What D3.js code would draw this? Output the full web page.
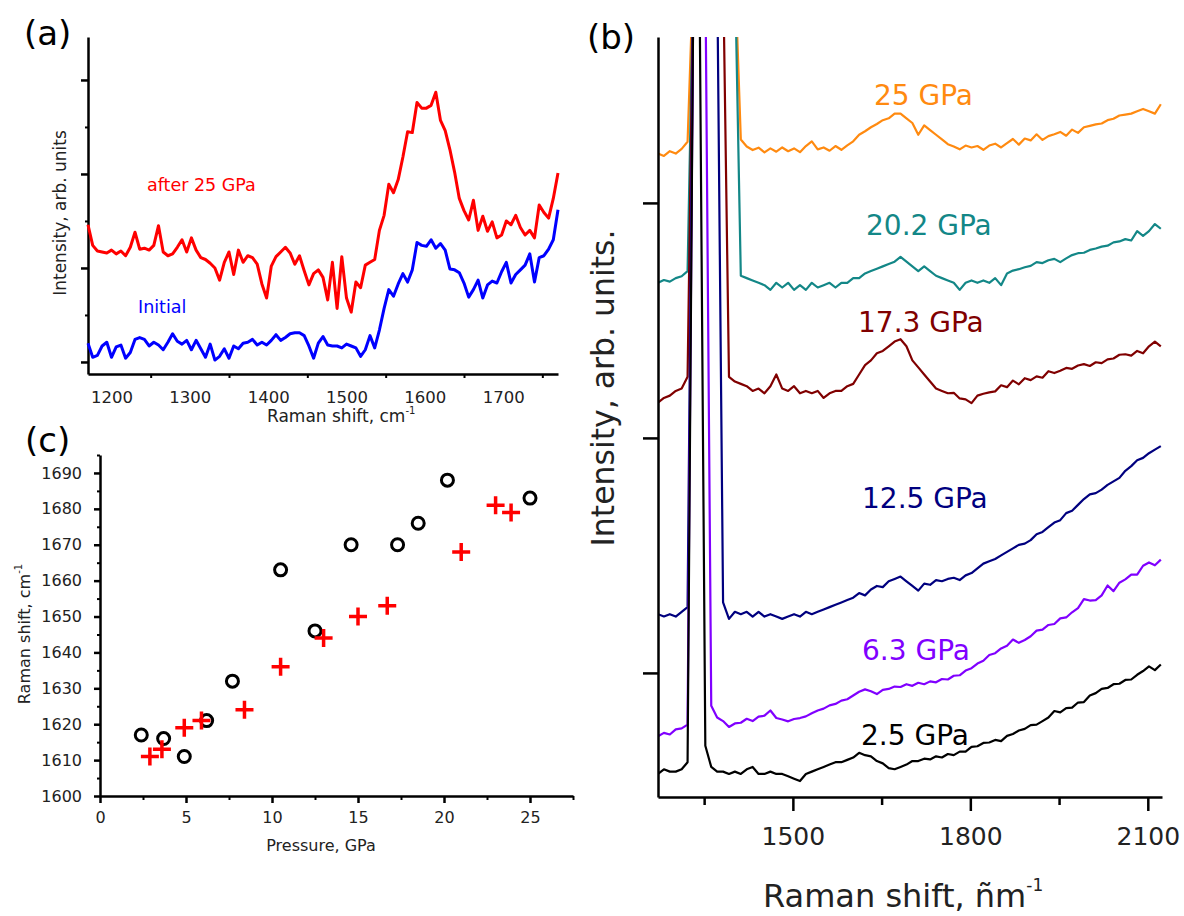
<!DOCTYPE html>
<html>
<head>
<meta charset="utf-8">
<script src="https://cdn.jsdelivr.net/npm/d3@7"></script>
<style>
  body { margin: 0; background: #fff; }
  svg text { font-family: "DejaVu Sans", sans-serif; }
</style>
</head>
<body>
<script>
// ---- panel (a): spectra before / after compression ----
const ramanA = d3.range(1170, 1771, 6); // sampling grid, cm-1
const after25A = [146,124,118,117,116,119,115,118,113,122,
  138,120,121,119,124,145,117,113,115,122,
  130,117,132,119,111,109,105,100,87,106,
  117,93,119,106,113,111,104,83,68,102,
  112,117,122,116,104,113,97,82,94,98,
  90,66,106,57,112,68,53,85,79,103,
  106,109,140,156,189,180,194,218,245,244,
  276,270,270,273,287,257,246,226,202,174,
  161,151,172,140,155,139,149,132,135,150,
  146,156,143,135,140,132,167,159,153,174,
  201];
const initialA = [20,5,7,17,21,5,16,18,4,10,
  24,26,24,17,21,18,13,21,30,22,
  19,23,13,23,14,5,19,2,6,14,
  4,17,14,20,21,24,18,21,18,23,
  29,23,26,30,31,31,28,17,4,20,
  27,18,17,17,15,19,17,15,6,13,
  28,15,34,57,77,70,83,94,85,98,
  127,124,123,130,121,126,119,99,98,95,
  84,69,77,87,68,82,86,84,96,106,
  84,93,98,103,115,85,111,113,120,130,
  162];
const shiftTicksA = [1200, 1300, 1400, 1500, 1600, 1700];
const shiftMinorA = [1250, 1350, 1450, 1550, 1650, 1750];
const intTicksA = [0, 100, 200, 300];
const intMinorA = [50, 150, 250];

// ---- panel (b): spectra under pressure ----
const shiftB = d3.range(1272, 2123, 10); // sampling grid, cm-1
const pressureLabels = ["25 GPa", "20.2 GPa", "17.3 GPa", "12.5 GPa", "6.3 GPa", "2.5 GPa"];
const p25 = [2210,2200,2220,2210,2230,2260,3000,3000,3000,3000,
  3000,3000,3000,3000,2270,2240,2225,2235,2215,2232,
  2218,2236,2220,2232,2216,2242,2262,2228,2236,2222,
  2242,2226,2245,2262,2290,2305,2322,2336,2352,2360,
  2380,2380,2360,2340,2290,2330,2310,2290,2270,2250,
  2240,2228,2244,2236,2242,2226,2244,2252,2236,2254,
  2272,2248,2274,2266,2292,2268,2284,2292,2302,2286,
  2312,2298,2322,2328,2334,2338,2352,2358,2372,2376,
  2380,2390,2400,2390,2380,2420];
const p20 = [1660,1672,1665,1680,1688,1710,3000,3000,3000,3000,
  3000,3000,3000,3000,1690,1680,1670,1660,1650,1630,
  1660,1640,1660,1630,1650,1630,1660,1640,1650,1660,
  1640,1660,1660,1680,1680,1700,1710,1720,1730,1740,
  1750,1770,1750,1730,1710,1730,1710,1690,1680,1670,
  1660,1630,1660,1670,1660,1670,1660,1680,1650,1700,
  1712,1718,1726,1732,1748,1744,1756,1762,1748,1764,
  1778,1786,1788,1800,1806,1814,1818,1832,1836,1846,
  1840,1880,1860,1880,1910,1890];
const p17 = [1150,1170,1180,1200,1210,1260,3000,3000,3000,3000,
  3000,3000,1260,1240,1230,1220,1200,1210,1190,1220,
  1270,1210,1200,1220,1190,1200,1190,1200,1170,1190,
  1200,1200,1220,1230,1270,1310,1330,1360,1370,1390,
  1410,1420,1390,1330,1300,1270,1240,1210,1200,1190,
  1192,1168,1164,1148,1180,1188,1194,1198,1224,1216,
  1244,1228,1254,1246,1262,1256,1284,1276,1286,1298,
  1294,1308,1314,1306,1322,1318,1334,1338,1354,1356,
  1350,1370,1360,1390,1410,1390];
const p12 = [250,240,250,240,260,280,3000,3000,3000,3000,
  3000,300,230,260,250,260,240,260,240,250,
  240,230,240,250,240,260,250,260,270,280,
  290,300,310,320,340,330,355,370,365,390,
  400,410,390,370,350,380,375,395,390,400,
  405,395,415,425,445,465,475,485,500,515,
  530,545,550,565,590,600,620,640,650,680,
  690,715,740,760,765,780,800,815,830,860,
  880,905,915,935,950,965];
const p6 = [-270,-255,-262,-240,-236,-220,3000,3000,3000,-140,
  -190,-205,-230,-215,-212,-195,-205,-186,-182,-160,
  -192,-198,-206,-196,-192,-185,-172,-160,-152,-138,
  -132,-118,-112,-96,-80,-70,-78,-90,-72,-68,
  -58,-60,-48,-55,-42,-48,-36,-40,-26,-28,
  -12,-10,10,20,40,52,76,84,104,116,
  142,128,140,156,180,184,204,208,232,236,
  258,276,314,308,310,330,372,348,384,398,
  418,418,456,470,458,482];
const p2 = [-430,-410,-420,-420,-410,-380,3000,3000,-310,-400,
  -420,-420,-430,-420,-430,-410,-400,-430,-430,-420,
  -430,-430,-440,-450,-460,-430,-420,-410,-400,-390,
  -380,-380,-370,-360,-340,-350,-355,-375,-385,-405,
  -410,-400,-390,-375,-375,-365,-368,-355,-360,-345,
  -350,-335,-335,-315,-312,-298,-296,-285,-290,-268,
  -260,-245,-238,-222,-220,-205,-190,-162,-168,-150,
  -148,-126,-124,-96,-86,-68,-64,-48,-46,-30,
  -28,-8,8,28,12,36];
const shiftTicksB = [1500, 1800, 2100];
const shiftMinorB = [1350, 1650, 1950];
const intTicksB = [0, 1000, 2000];

// ---- panel (c): peak position vs pressure ----
const pressCircle = [2.4, 3.7, 4.9, 6.2, 7.7, 10.5, 12.5, 14.6, 17.3, 18.5, 20.2, 25.0];
const shiftCircle = [1617, 1616, 1611, 1621, 1632, 1663, 1646, 1670, 1670, 1676, 1688, 1683];
const pressCross = [2.9, 3.6, 4.9, 5.9, 8.4, 10.5, 13.0, 15.0, 16.7, 21.0, 23.0, 23.9];
const shiftCross = [1611, 1613, 1619, 1621, 1624, 1636, 1644, 1650, 1653, 1668, 1681, 1679];
const pressTicks = [0, 5, 10, 15, 20, 25];
const pressMinor = [2.5, 7.5, 12.5, 17.5, 22.5, 27.5];
const shiftTicksC = [1600, 1610, 1620, 1630, 1640, 1650, 1660, 1670, 1680, 1690];
const shiftMinorC = [1605, 1615, 1625, 1635, 1645, 1655, 1665, 1675, 1685, 1695];

const svg = d3.select("body").append("svg")
  .attr("width", 1184)
  .attr("height", 916);

function styleAxis(g, width, fontSize) {
  g.attr("font-family", null).attr("font-size", fontSize);
  g.select(".domain").attr("stroke", "#000").attr("stroke-width", width);
  g.selectAll(".tick line").attr("stroke", "#000").attr("stroke-width", width);
  g.selectAll(".tick text").attr("fill", "#222");
  return g;
}

function minorTicks(axis, tx, ty, width) {
  svg.append("g")
    .attr("transform", "translate(" + tx + "," + ty + ")")
    .call(axis.tickFormat(""))
    .call(g => g.select(".domain").remove())
    .selectAll("line").attr("stroke", "#000").attr("stroke-width", width);
}

function label(x, y, txt, size, color) {
  return svg.append("text")
    .attr("x", x).attr("y", y)
    .attr("font-size", size)
    .attr("fill", color || "#222")
    .text(txt);
}

// ================= (a) =================
const xA = d3.scaleLinear().domain([1170, 1770]).range([88, 558]);
const yA = d3.scaleLinear().domain([-12.8, 345.7]).range([374, 37]);

const gAx = svg.append("g").attr("transform", "translate(0,374)")
  .call(d3.axisBottom(xA).tickValues(shiftTicksA).tickSize(0).tickSizeOuter(0).tickFormat(d3.format("d")));
styleAxis(gAx, 2.5, 16.5);
gAx.selectAll(".tick text").attr("y", 29).attr("dy", null);
minorTicks(d3.axisBottom(xA).tickValues(shiftMinorA).tickSize(4), 0, 374, 2);

const gAy = svg.append("g").attr("transform", "translate(88,0)")
  .call(d3.axisLeft(yA).tickValues(intTicksA).tickSize(7).tickSizeOuter(0).tickFormat(""));
styleAxis(gAy, 2.5, 16);
minorTicks(d3.axisLeft(yA).tickValues(intMinorA).tickSize(3), 88, 0, 2);

const lineA = d3.line()
  .x((d, i) => xA(ramanA[i]))
  .y(d => yA(d));

svg.append("path").datum(initialA)
  .attr("d", lineA).attr("fill", "none")
  .attr("stroke", "#0000ff").attr("stroke-width", 3).attr("stroke-linejoin", "round");
svg.append("path").datum(after25A)
  .attr("d", lineA).attr("fill", "none")
  .attr("stroke", "#ff0000").attr("stroke-width", 3).attr("stroke-linejoin", "round");

label(147, 191, "after 25 GPa", 17.5, "#ff0000");
label(138, 313, "Initial", 17.5, "#0000ff");

svg.append("text")
  .attr("transform", "translate(66,213) rotate(-90)")
  .attr("text-anchor", "middle")
  .attr("font-size", 17).attr("fill", "#222")
  .text("Intensity, arb. units");

const xlabA = label(267, 422, "Raman shift, cm", 17);
xlabA.append("tspan").attr("dy", -8).attr("font-size", 10).text("-1");

svg.append("text").attr("x", 24).attr("y", 45)
  .attr("font-family", "'Open Sans', sans-serif").attr("font-size", 34).attr("fill", "#000")
  .text("(a)");

// ================= (c) =================
const xC = d3.scaleLinear().domain([0, 27.5]).range([100, 573]);
const yC = d3.scaleLinear().domain([1600, 1695]).range([796, 455]);

const gCx = svg.append("g").attr("transform", "translate(0,796)")
  .call(d3.axisBottom(xC).tickValues(pressTicks).tickSize(7).tickSizeOuter(0).tickFormat(d3.format("d")));
styleAxis(gCx, 2.5, 16);
gCx.selectAll(".tick text").attr("y", 27).attr("dy", null);
minorTicks(d3.axisBottom(xC).tickValues(pressMinor).tickSize(4), 0, 796, 2);

const gCy = svg.append("g").attr("transform", "translate(100,0)")
  .call(d3.axisLeft(yC).tickValues(shiftTicksC).tickSize(6).tickSizeOuter(0).tickPadding(12).tickFormat(d3.format("d")));
styleAxis(gCy, 2.5, 16);
minorTicks(d3.axisLeft(yC).tickValues(shiftMinorC).tickSize(3), 100, 0, 2);

svg.append("g").selectAll("circle")
  .data(pressCircle)
  .enter().append("circle")
  .attr("cx", d => xC(d))
  .attr("cy", (d, i) => yC(shiftCircle[i]))
  .attr("r", 6)
  .attr("fill", "none").attr("stroke", "#000").attr("stroke-width", 3);

svg.append("g").selectAll("path")
  .data(pressCross)
  .enter().append("path")
  .attr("transform", (d, i) => "translate(" + xC(d) + "," + yC(shiftCross[i]) + ")")
  .attr("d", "M-9,0H9M0,-9V9")
  .attr("stroke", "#ff0000").attr("stroke-width", 3.5);

const ylabC = svg.append("text")
  .attr("transform", "translate(30,634) rotate(-90)")
  .attr("text-anchor", "middle")
  .attr("font-size", 16).attr("fill", "#222")
  .text("Raman shift, cm");
ylabC.append("tspan").attr("dy", -8).attr("font-size", 10).text("-1");

svg.append("text").attr("x", 321).attr("y", 851)
  .attr("text-anchor", "middle").attr("font-size", 16).attr("fill", "#222")
  .text("Pressure, GPa");

svg.append("text").attr("x", 25).attr("y", 452)
  .attr("font-family", "'Open Sans', sans-serif").attr("font-size", 34).attr("fill", "#000")
  .text("(c)");

// ================= (b) =================
const xB = d3.scaleLinear().domain([1272, 2124]).range([658, 1162]);
const yB = d3.scaleLinear().domain([-528, 2706]).range([797, 37]);

svg.append("clipPath").attr("id", "clipB")
  .append("rect").attr("x", 658).attr("y", 37).attr("width", 504).attr("height", 760);

const lineB = d3.line()
  .x((d, i) => xB(shiftB[i]))
  .y(d => yB(d));

const spectraB = [p25, p20, p17, p12, p6, p2];
const colorsB = ["#ff8a10", "#138787", "#800000", "#00007f", "#8000ff", "#000000"];
const labelPosB = [[874, 105], [866, 235], [858, 332], [862, 508], [862, 660], [861, 745]];

svg.append("g").attr("clip-path", "url(#clipB)")
  .selectAll("path")
  .data(spectraB)
  .enter().append("path")
  .attr("d", lineB)
  .attr("fill", "none")
  .attr("stroke", (d, i) => colorsB[i])
  .attr("stroke-width", 2.2)
  .attr("stroke-linejoin", "round");

pressureLabels.forEach((t, i) => {
  label(labelPosB[i][0], labelPosB[i][1], t, 28, colorsB[i]);
});

const gBx = svg.append("g").attr("transform", "translate(0,797)")
  .call(d3.axisBottom(xB).tickValues(shiftTicksB).tickSize(14).tickSizeOuter(0).tickFormat(d3.format("d")));
styleAxis(gBx, 2.5, 25);
gBx.selectAll(".tick text").attr("y", 48).attr("dy", null);
minorTicks(d3.axisBottom(xB).tickValues(shiftMinorB).tickSize(8), 0, 797, 2.5);

const gBy = svg.append("g").attr("transform", "translate(658,0)")
  .call(d3.axisLeft(yB).tickValues(intTicksB).tickSize(15).tickSizeOuter(0).tickFormat(""));
styleAxis(gBy, 2.5, 16);

svg.append("text")
  .attr("transform", "translate(614,388) rotate(-90)")
  .attr("text-anchor", "middle")
  .attr("font-size", 31.5).attr("fill", "#222")
  .text("Intensity, arb. units.");

const xlabB = label(763, 907, "Raman shift, ñm", 32);
xlabB.append("tspan").attr("dy", -16).attr("font-size", 17).text("-1");

svg.append("text").attr("x", 587).attr("y", 49)
  .attr("font-family", "'Open Sans', sans-serif").attr("font-size", 34).attr("fill", "#000")
  .text("(b)");
</script>
</body>
</html>
